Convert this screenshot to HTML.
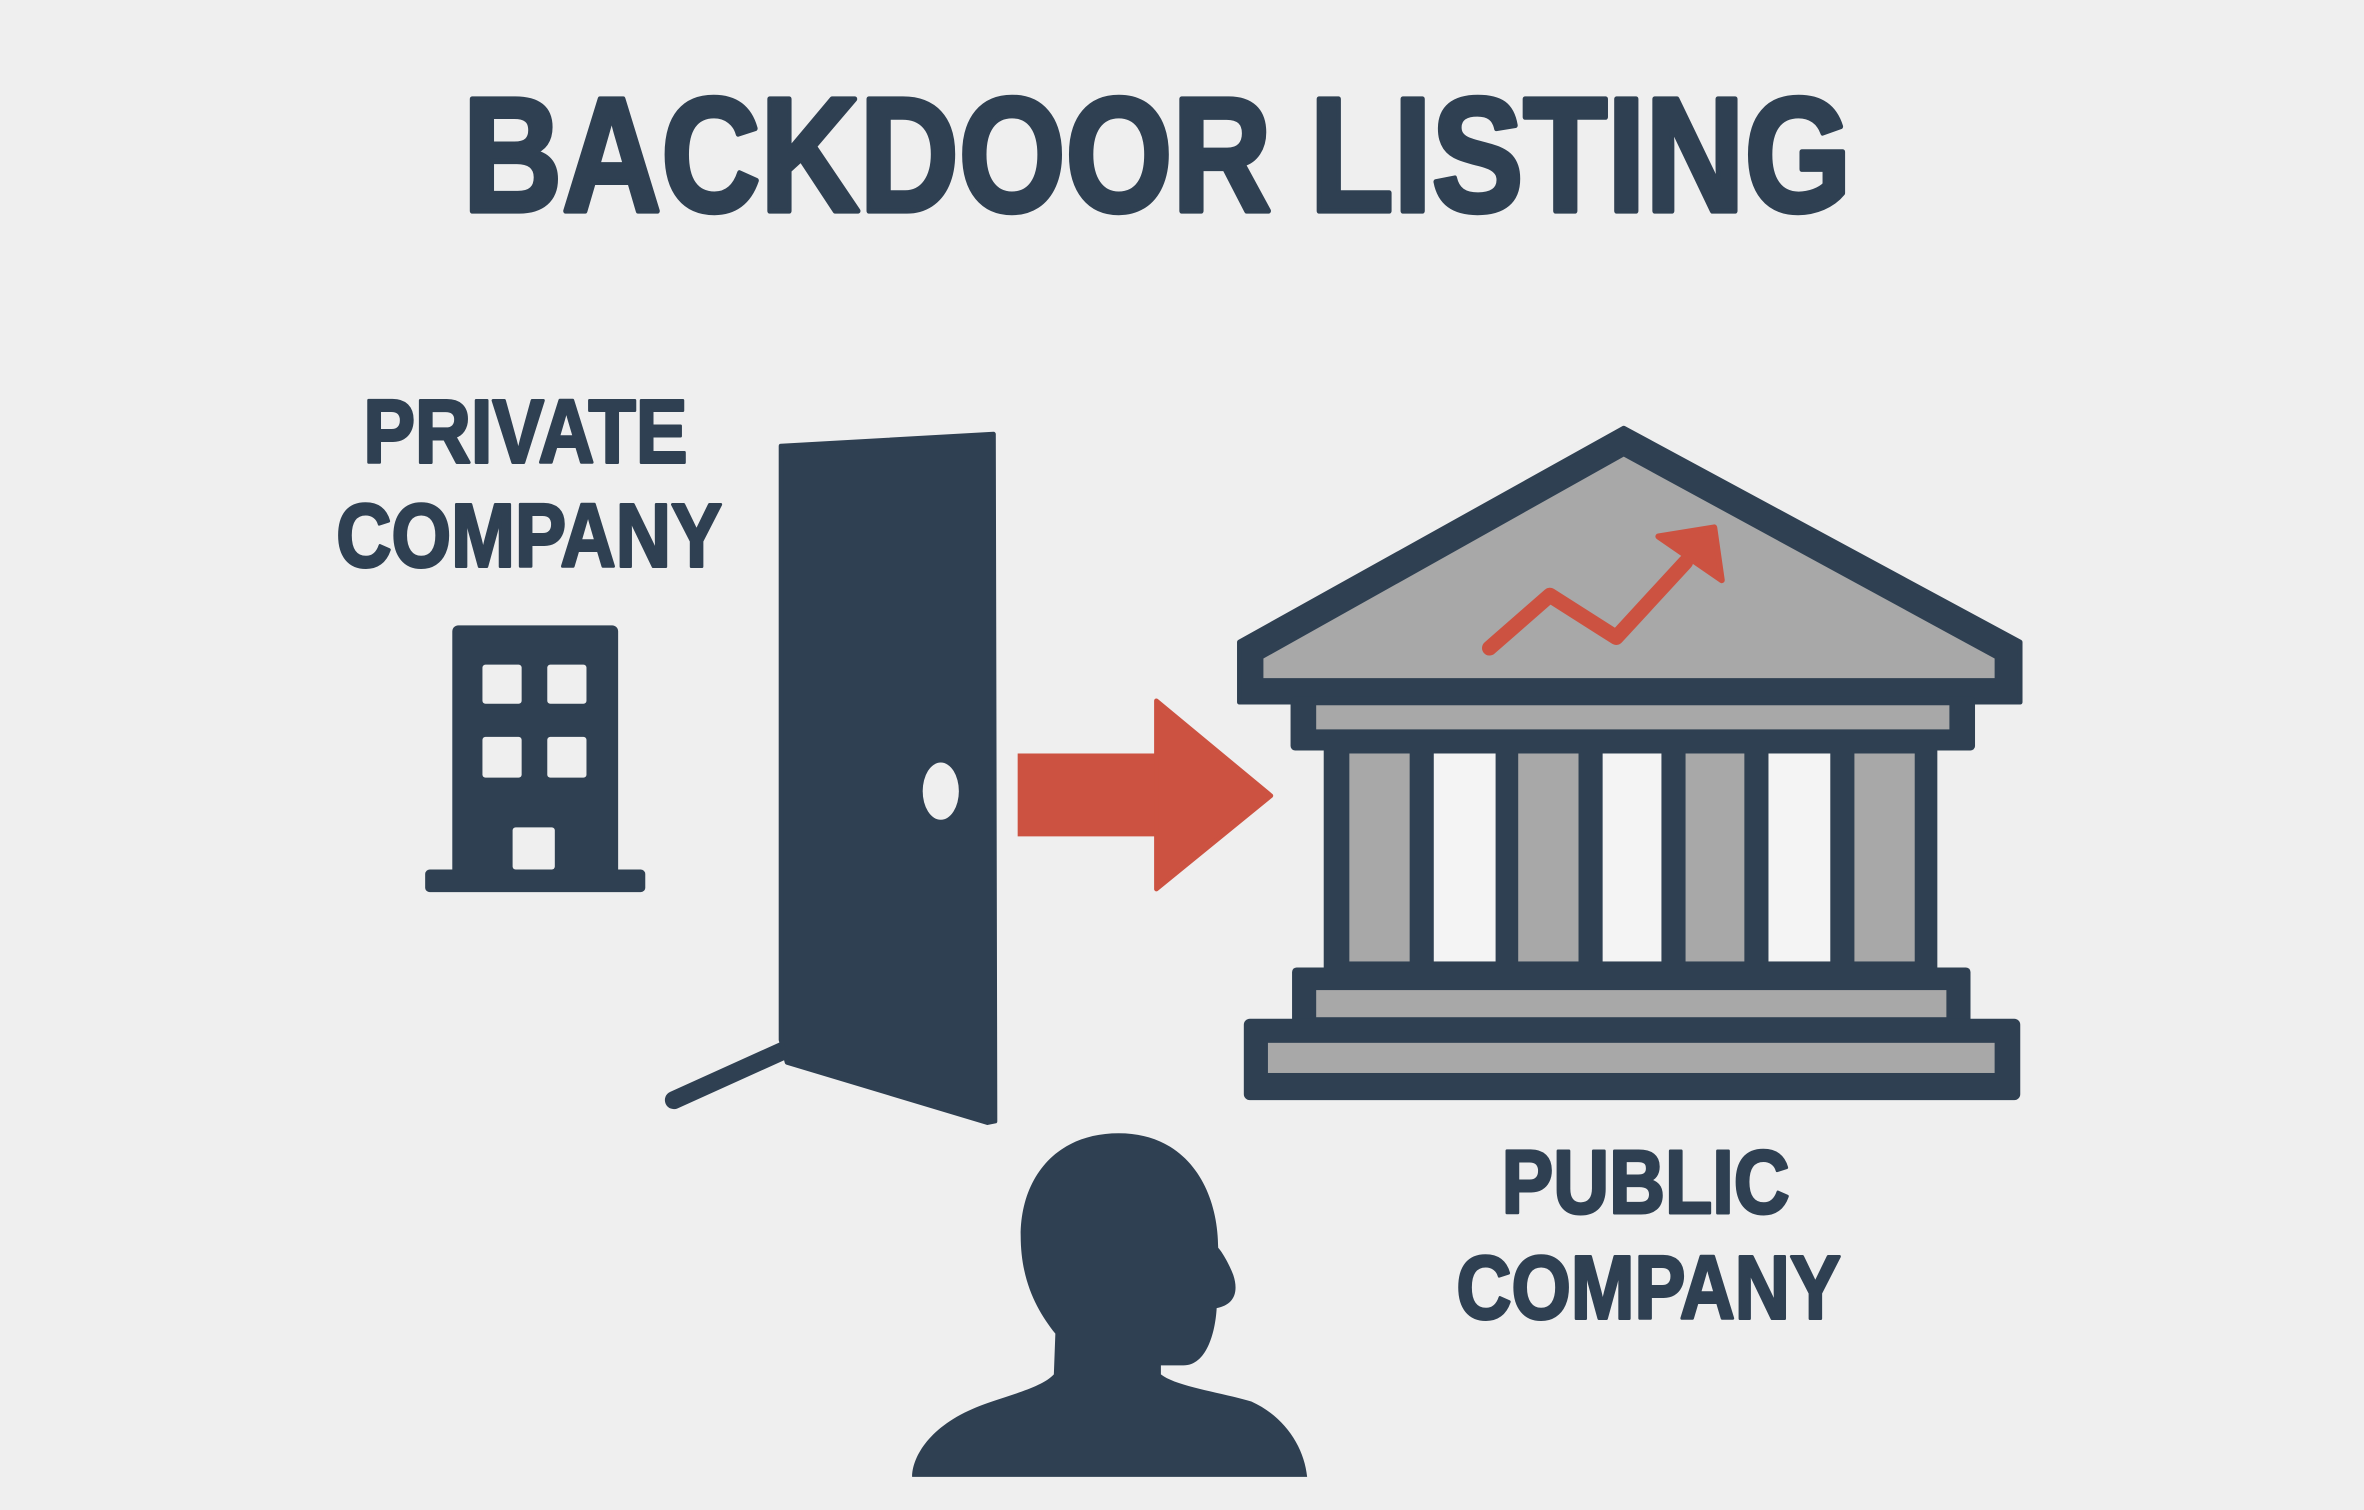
<!DOCTYPE html>
<html><head><meta charset="utf-8"><style>
html,body{margin:0;padding:0;background:#efefef;}
svg{display:block;}
text{font-family:"Liberation Sans",sans-serif;font-weight:bold;fill:#2f4052;stroke:#2f4052;stroke-width:2;stroke-linejoin:round;}
text.t{stroke-width:3.5;}
</style></head><body>
<svg width="2364" height="1510" viewBox="0 0 1568 1002" preserveAspectRatio="none" xmlns="http://www.w3.org/2000/svg">
<rect width="1568" height="1002" fill="#efefef"/>
<text class="t" x="307" y="140" font-size="108" textLength="921" lengthAdjust="spacingAndGlyphs">BACKDOOR LISTING</text>
<text x="241" y="307" font-size="60" textLength="215" lengthAdjust="spacingAndGlyphs">PRIVATE</text>
<text x="223" y="376" font-size="60" textLength="256" lengthAdjust="spacingAndGlyphs">COMPANY</text>
<text x="996" y="805" font-size="60" textLength="191" lengthAdjust="spacingAndGlyphs">PUBLIC</text>
<text x="966" y="875" font-size="60" textLength="255" lengthAdjust="spacingAndGlyphs">COMPANY</text>
<!-- office building -->
<g fill="#2f4052">
<rect x="300" y="415" width="110" height="168" rx="4"/>
<rect x="282" y="577" width="146" height="15" rx="3"/>
</g>
<g fill="#efefef">
<rect x="320" y="441" width="26" height="26" rx="2"/><rect x="363" y="441" width="26" height="26" rx="2"/>
<rect x="320" y="489" width="26" height="27" rx="2"/><rect x="363" y="489" width="26" height="27" rx="2"/>
<rect x="340" y="549" width="28" height="28" rx="2"/>
</g>
<!-- door -->
<line x1="447" y1="730" x2="520" y2="697" stroke="#2f4052" stroke-width="12" stroke-linecap="round"/>
<polygon points="518,296 659,288 660,744 655,745 522,705 518,690" fill="#2f4052" stroke="#2f4052" stroke-width="3" stroke-linejoin="round"/>
<ellipse cx="624" cy="525" rx="12" ry="19" fill="#efefef"/>
<!-- arrow -->
<rect x="675" y="500" width="96" height="55" fill="#cc5241"/>
<polygon points="767,465 843,528 767,590" fill="#cc5241" stroke="#cc5241" stroke-width="3" stroke-linejoin="round"/>
<!-- bank -->
<polygon points="822,426 1077,284 1340,426 1340,466 822,466" fill="#2f4052" stroke="#2f4052" stroke-width="3" stroke-linejoin="round"/>
<polygon points="838,437 1077,303 1323,437 1323,450 838,450" fill="#a8a8a8"/>
<rect x="856" y="462" width="454" height="36" rx="3" fill="#2f4052"/>
<rect x="873" y="468" width="420" height="16" fill="#a8a8a8"/>
<rect x="878" y="495" width="407" height="152" fill="#2f4052"/>
<g fill="#a8a8a8">
<rect x="895" y="500" width="40" height="138"/><rect x="1007" y="500" width="40" height="138"/>
<rect x="1118" y="500" width="39" height="138"/><rect x="1230" y="500" width="40" height="138"/>
</g>
<g fill="#f4f4f4">
<rect x="951" y="500" width="41" height="138"/><rect x="1063" y="500" width="39" height="138"/>
<rect x="1173" y="500" width="41" height="138"/>
</g>
<rect x="857" y="642" width="450" height="38" rx="3" fill="#2f4052"/>
<rect x="873" y="657" width="418" height="18" fill="#a8a8a8"/>
<rect x="825" y="676" width="515" height="54" rx="4" fill="#2f4052"/>
<rect x="841" y="692" width="482" height="20" fill="#a8a8a8"/>
<!-- chart arrow -->
<polyline points="988,430 1028,395 1072,423 1118,373" fill="none" stroke="#cc5241" stroke-width="10" stroke-linecap="round" stroke-linejoin="round"/>
<polygon points="1100,356 1137,350 1142,385" fill="#cc5241" stroke="#cc5241" stroke-width="4" stroke-linejoin="round"/>
<!-- person -->
<path d="M742,752 C700,752 677,782 677,820 C677,850 688,870 700,885 L699,912 C690,922 660,928 645,935 C615,948 605,968 605,980 L867,980 C865,960 852,940 830,930 C810,924 780,920 770,912 L770,906 L785,906 C800,906 806,885 807,868 C818,866 822,858 818,846 C815,838 810,830 808,828 C808,790 788,752 742,752 Z" fill="#2f4052"/>
</svg>
</body></html>
